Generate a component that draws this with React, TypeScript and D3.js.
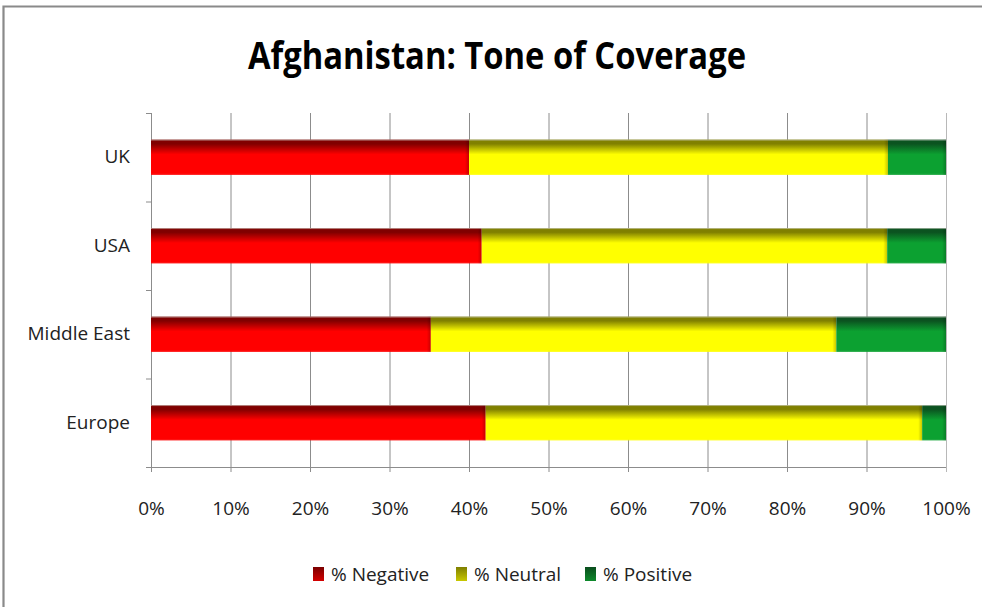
import React, { useEffect } from "react";
import * as d3 from "d3";

const categories = ["UK", "USA", "Middle East", "Europe"];
const seriesNames = ["% Negative", "% Neutral", "% Positive"];
const negative = [40.0, 41.6, 35.2, 42.1];
const neutral = [52.7, 51.0, 51.0, 54.9];
const positive = [7.3, 7.4, 13.8, 3.0];
const xTicks = [0, 10, 20, 30, 40, 50, 60, 70, 80, 90, 100];
const title = "Afghanistan: Tone of Coverage";

const W = 982;
const H = 607;
const plot = { left: 151, right: 946, top: 113, bottom: 467 };

const colors = [
  { dark: "#800000", bright: "#ff0000", sw1: "#7a0000", sw2: "#d40000" },
  { dark: "#808000", bright: "#ffff00", sw1: "#7f7f00", sw2: "#c8c800" },
  { dark: "#0b5320", bright: "#0ca131", sw1: "#0a4d1d", sw2: "#0e8a2c" },
];

const FONT = "'Liberation Sans Narrow', 'Open Sans', 'DejaVu Sans Condensed', sans-serif";

export default function App() {
  useEffect(() => {
    document.documentElement.style.overflow = "hidden";
    document.body.style.overflow = "hidden";
    document.body.style.margin = "0";
  }, []);
  const x = d3.scaleLinear().domain([0, 100]).range([plot.left, plot.right]);
  const y = d3
    .scaleBand<string>()
    .domain(categories)
    .range([plot.top, plot.bottom])
    .paddingInner(0.6)
    .paddingOuter(0.3);
  const step = y.step();
  const rows = categories.map((c, i) => ({ c, v: [negative[i], neutral[i], positive[i]] }));
  const stacked = rows.map((r) => {
    let acc = 0;
    return r.v.map((v, k) => {
      const s = { k, x0: acc, x1: acc + v };
      acc += v;
      return s;
    });
  });
  const boundaries = d3.range(categories.length + 1).map((i) => plot.top + i * step);
  const legendX = [313, 456, 585];

  return (
    <svg
      width={W}
      height={H}
      style={{ position: "fixed", left: 0, top: 0, background: "#fff", display: "block" }}
      fontFamily={FONT}
    >
      <defs>
        {colors.map((c, k) => (
          <linearGradient key={k} id={`g${k}`} x1="0" y1="0" x2="0" y2="1">
            <stop offset="0" stopColor={c.dark} />
            <stop offset="0.12" stopColor={c.dark} />
            <stop offset="0.42" stopColor={c.bright} />
            <stop offset="0.95" stopColor={c.bright} />
            <stop offset="1" stopColor={c.bright} stopOpacity="0.85" />
          </linearGradient>
        ))}
        {colors.map((c, k) => (
          <linearGradient key={k} id={`s${k}`} x1="0" y1="0" x2="0" y2="1">
            <stop offset="0" stopColor={c.sw1} />
            <stop offset="1" stopColor={c.sw2} />
          </linearGradient>
        ))}
        <linearGradient id="edge" x1="0" y1="0" x2="1" y2="0">
          <stop offset="0" stopColor="#000" stopOpacity="0" />
          <stop offset="1" stopColor="#000" stopOpacity="0.22" />
        </linearGradient>
      </defs>
      <rect x={0} y={0} width={W} height={H} fill="#fff" />
      <path d={`M3.5,${H + 5} V6.5 H${W + 5}`} fill="none" stroke="#8a8a8a" strokeWidth={2.2} />

      <text
        x={497}
        y={69}
        textAnchor="middle"
        fontSize={38}
        fontWeight="bold"
        fill="#000"
        textLength={498}
        lengthAdjust="spacingAndGlyphs"
      >
        {title}
      </text>

      {xTicks.map((t) => (
        <line
          key={t}
          x1={x(t) + 0.5}
          x2={x(t) + 0.5}
          y1={plot.top}
          y2={plot.bottom + 5}
          stroke={t === 100 ? "#b8b8b8" : "#8c8c8c"}
          strokeWidth={1}
        />
      ))}
      <line x1={plot.left + 0.5} x2={plot.left + 0.5} y1={plot.top} y2={plot.bottom} stroke="#8c8c8c" />
      {boundaries.map((b, i) => (
        <line key={i} x1={plot.left - 5} x2={plot.left} y1={b + 0.5} y2={b + 0.5} stroke="#8c8c8c" />
      ))}
      <line x1={plot.left - 5} x2={plot.right} y1={plot.bottom + 0.5} y2={plot.bottom + 0.5} stroke="#8c8c8c" />

      {rows.map((r, i) => {
        const by = y(r.c)!;
        const bh = y.bandwidth();
        return (
          <g key={r.c}>
            {stacked[i].map((s) => {
              const x0 = x(s.x0);
              const x1 = x(s.x1);
              return (
                <g key={s.k}>
                  <rect x={x0} y={by} width={x1 - x0} height={bh} fill={`url(#g${s.k})`} />
                  <rect x={Math.max(x0, x1 - 4)} y={by} width={Math.min(4, x1 - x0)} height={bh} fill="url(#edge)" />
                </g>
              );
            })}
            <line x1={x(0)} x2={x(100)} y1={by + 0.5} y2={by + 0.5} stroke="#d0d0c8" strokeOpacity={0.6} />
          </g>
        );
      })}

      {categories.map((c) => (
        <text
          key={c}
          x={130}
          y={y(c)! + y.bandwidth() / 2 + 6}
          textAnchor="end"
          fontSize={19}
          fill="#222"
        >
          {c}
        </text>
      ))}

      {xTicks.map((t) => (
        <text key={t} x={x(t) + 0.5} y={515} textAnchor="middle" fontSize={19} fill="#222">
          {`${t}%`}
        </text>
      ))}

      {seriesNames.map((n, k) => (
        <g key={n}>
          <rect x={legendX[k]} y={567} width={11} height={14} fill={`url(#s${k})`} />
          <text x={legendX[k] + 18} y={581} fontSize={19} fill="#222">
            {n}
          </text>
        </g>
      ))}
    </svg>
  );
}
